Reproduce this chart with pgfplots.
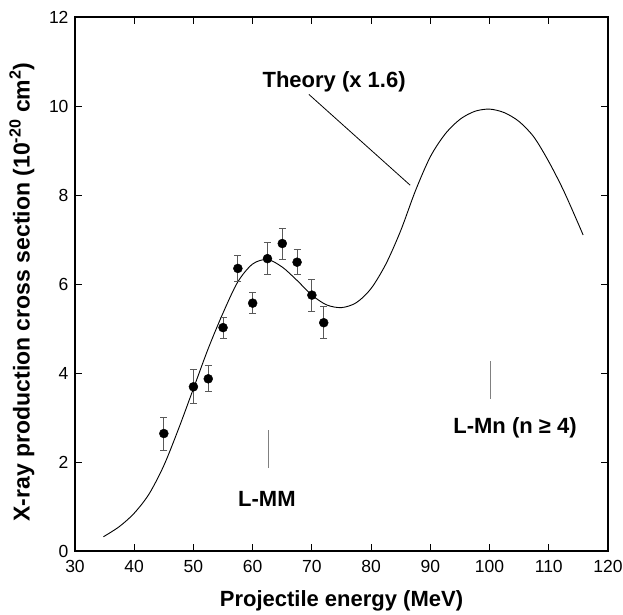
\documentclass[border=0pt]{standalone}
\usepackage{fontspec}
\setmainfont{Liberation Sans}
\usepackage{pgfplots}
\usepackage{pgfplotstable}
\pgfplotsset{compat=1.18}

\pgfplotstableread{
x y e
45   2.64 0.37
50   3.69 0.38
52.5 3.87 0.29
55   5.02 0.24
57.5 6.35 0.29
60   5.57 0.24
62.5 6.57 0.36
65   6.91 0.35
67.5 6.49 0.28
70   5.75 0.36
72   5.13 0.36
}\expdata

\pgfplotstableread{
x y
34.8 0.32
37.5 0.55
40   0.85
42.5 1.28
45   1.92
47.5 2.75
50   3.65
52.5 4.55
55   5.35
57.5 6.05
60   6.45
62.5 6.55
65   6.38
67.5 6.08
70   5.75
72.5 5.53
75   5.47
77.5 5.58
80   5.90
82.5 6.45
85   7.20
87.5 8.10
90   8.86
92.5 9.37
95   9.70
97.5 9.88
100  9.93
102.5 9.85
105  9.65
107.5 9.30
110  8.75
112.5 8.10
115  7.35
115.8 7.10
}\theory

\begin{document}
\begin{tikzpicture}
\begin{axis}[
  scale only axis,
  width=533pt, height=534pt,
  xmin=30, xmax=120, ymin=0, ymax=12,
  xtick={30,40,...,120},
  ytick={0,2,...,12},
  tick align=inside,
  major tick length=7pt,
  tick style={black, line width=0.8pt},
  axis line style={line width=1.3pt},
  /pgf/number format/assume math mode=true,
  ticklabel style={font=\fontsize{17.5}{19}\selectfont},
  xticklabel style={yshift=-6pt},
  yticklabel style={xshift=-3pt},
  xlabel={Projectile energy (MeV)},
  ylabel={X-ray production cross section (10\textsuperscript{-20} cm\textsuperscript{2})},
  label style={font=\fontsize{22}{24}\selectfont\bfseries},
  xlabel style={at={(axis description cs:0.5,0)}, anchor=center, yshift=-50pt},
  ylabel style={at={(axis description cs:0,0.5)}, anchor=center, xshift=-8pt, yshift=53pt, font=\fontsize{23}{25}\selectfont\bfseries},
  clip=false,
]
\addplot[black, line width=0.9pt, smooth, tension=0.5] table[x=x, y=y] {\theory};
\addplot[only marks, mark=*, mark size=4.5pt, black,
  error bars/.cd, y dir=both, y explicit,
  error bar style={black!65, line width=0.8pt},
  error mark options={black!65, line width=0.8pt, mark size=3.5pt, rotate=90}]
  table[x=x, y=y, y error=e] {\expdata};
% pointer and level markers
\addplot[black, line width=0.8pt] coordinates {(69.5,10.26) (86.6,8.22)};
\addplot[black!50, line width=0.8pt] coordinates {(62.6,1.86) (62.6,2.72)};
\addplot[black!50, line width=0.8pt] coordinates {(100.1,3.42) (100.1,4.28)};
\node[font=\fontsize{22}{24}\selectfont\bfseries] at (axis cs:73.75,10.54) {Theory (x 1.6)};
\node[font=\fontsize{22}{24}\selectfont\bfseries] at (axis cs:62.4,1.17) {L-MM};
\node[font=\fontsize{22}{24}\selectfont\bfseries] at (axis cs:104.3,2.76) {L-Mn (n ≥ 4)};
\end{axis}
\pgfresetboundingbox
\useasboundingbox (-75pt,-63pt) rectangle (548pt,551pt);
\end{tikzpicture}
\end{document}
